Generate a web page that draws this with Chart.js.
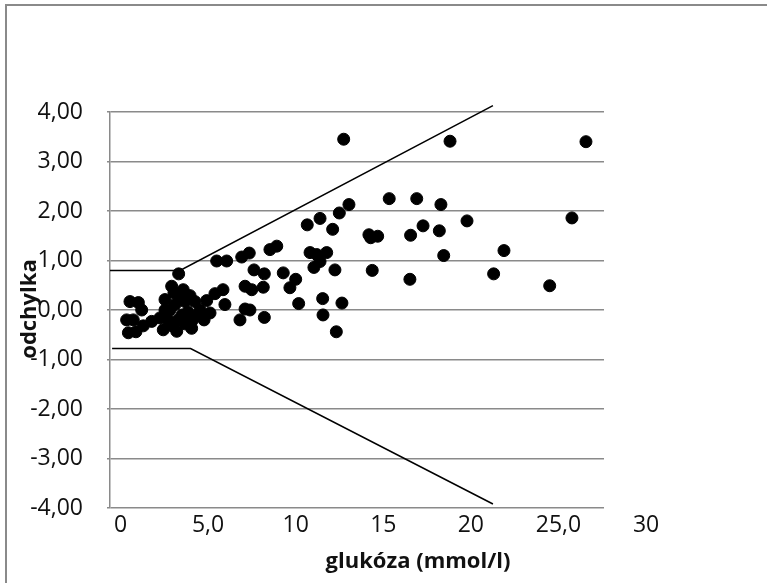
<!DOCTYPE html>
<html>
<head>
<meta charset="utf-8">
<script src="https://cdn.jsdelivr.net/npm/chart.js@4.4.1/dist/chart.umd.min.js"></script>
<style>
  body { margin: 0; background: #fff; }
  #wrap { width: 767px; height: 583px; position: relative; }
</style>
</head>
<body>
<div id="wrap"><canvas id="scatterChart"></canvas></div>
<script>
// glukóza (mmol/l) values of the measured points
var glukoza = [
  12.74, 18.81, 13.04, 12.49, 15.34, 16.91, 18.29, 19.78, 10.66, 11.39,
  12.11, 14.18, 14.28, 14.68, 16.56, 17.27, 18.20, 8.53, 8.92, 10.82,
  11.20, 11.77, 11.39, 11.04, 12.24, 21.89, 18.45, 14.37, 21.30, 16.52,
  7.62, 8.21, 9.29, 10.00, 9.67, 8.15, 7.49, 10.17, 11.54, 12.64,
  7.39, 8.21, 11.56, 12.32, 26.57, 25.77, 24.50, 3.32, 5.49, 6.06,
  6.92, 7.35, 7.11, 7.11, 6.82, 5.96, 5.39, 5.85, 4.92, 4.54,
  0.54, 1.02, 1.21, 0.35, 0.73, 0.45, 0.88, 1.30, 1.78, 2.92,
  3.05, 3.58, 2.44, 3.21, 4.06, 2.54, 2.83, 3.11, 3.40, 3.68,
  3.97, 4.25, 3.51, 2.71, 3.28, 3.85, 4.31, 2.94, 3.68, 2.25,
  2.54, 4.77, 4.08, 5.11
];
// odchylka of the same points
var odchylka = [
  3.45, 3.41, 2.13, 1.96, 2.25, 2.25, 2.13, 1.80, 1.72, 1.85,
  1.63, 1.52, 1.46, 1.49, 1.51, 1.70, 1.60, 1.22, 1.29, 1.16,
  1.12, 1.16, 0.98, 0.86, 0.81, 1.20, 1.10, 0.80, 0.73, 0.62,
  0.81, 0.73, 0.75, 0.62, 0.45, 0.46, 0.41, 0.13, 0.23, 0.14,
  0.00, -0.15, -0.10, -0.44, 3.40, 1.86, 0.49, 0.73, 0.99, 0.99,
  1.07, 1.15, 0.48, 0.02, -0.20, 0.11, 0.33, 0.41, 0.19, 0.00,
  0.17, 0.15, 0.00, -0.20, -0.20, -0.46, -0.44, -0.32, -0.23, 0.48,
  0.35, 0.41, -0.40, -0.43, -0.37, 0.21, 0.00, 0.11, 0.25, 0.17,
  0.29, 0.17, -0.10, -0.20, -0.20, -0.04, -0.12, -0.32, -0.28, -0.16,
  0.00, -0.20, -0.22, -0.06
];

// limit lines
var upperX = [-0.6, 3.4, 21.26];
var upperY = [0.80, 0.80, 4.13];
var lowerX = [-0.48, 4.0, 21.26];
var lowerY = [-0.78, -0.78, -3.92];

// x tick labels (written as in the original)
var xTickValues = [0, 5, 10, 15, 20, 25, 30];
var xTickLabels = ['0', '5,0', '10', '15', '20', '25,0', '30'];

function toPoints(xs, ys) {
  return xs.map(function (x, i) { return { x: x, y: ys[i] }; });
}

// frame, x labels and axis titles
var extrasPlugin = {
  id: 'extras',
  beforeDraw: function (chart) {
    var c = chart.ctx;
    c.save();
    c.strokeStyle = '#8a8a8a';
    c.lineWidth = 2;
    c.strokeRect(6, 5, 800, 620);
    c.restore();
  },
  afterDraw: function (chart) {
    var c = chart.ctx;
    var xs = chart.scales.x;
    c.save();
    c.fillStyle = '#111';
    c.font = '23px "Open Sans"';
    c.textAlign = 'center';
    c.textBaseline = 'middle';
    xTickValues.forEach(function (v, i) {
      c.fillText(xTickLabels[i], xs.getPixelForValue(v), 525);
    });
    c.font = 'bold 22px "Open Sans"';
    c.fillText('glukóza (mmol/l)', 418, 562);
    c.translate(30, 309);
    c.rotate(-Math.PI / 2);
    c.fillText('odchylka', 0, 0);
    c.restore();
  }
};

const ctx = document.getElementById('scatterChart');
new Chart(ctx, {
  type: 'scatter',
  data: {
    datasets: [
      {
        label: 'body',
        data: toPoints(glukoza, odchylka),
        backgroundColor: '#000',
        borderColor: '#000',
        pointRadius: 6,
        pointHoverRadius: 6,
        order: 1
      },
      {
        label: 'horní mez',
        data: toPoints(upperX, upperY),
        showLine: true,
        borderColor: '#000',
        borderWidth: 1.5,
        pointRadius: 0,
        clip: false,
        order: 2
      },
      {
        label: 'dolní mez',
        data: toPoints(lowerX, lowerY),
        showLine: true,
        borderColor: '#000',
        borderWidth: 1.5,
        pointRadius: 0,
        clip: false,
        order: 2
      }
    ]
  },
  options: {
    responsive: true,
    maintainAspectRatio: false,
    animation: false,
    layout: {
      padding: { left: 0, top: 112, right: 163, bottom: 75 }
    },
    plugins: {
      legend: { display: false },
      tooltip: { enabled: false }
    },
    scales: {
      x: {
        type: 'linear',
        display: false,
        min: -0.6,
        max: 27.6
      },
      y: {
        min: -4,
        max: 4,
        afterFit: function (scale) { scale.width = 110; },
        border: { display: true, color: '#8a8a8a', width: 1.5 },
        grid: {
          color: '#8a8a8a',
          lineWidth: 1.5,
          drawTicks: true,
          tickLength: 3
        },
        ticks: {
          stepSize: 1,
          padding: 24,
          color: '#111',
          font: { family: '"Open Sans"', size: 23 },
          callback: function (v) { return v.toFixed(2).replace('.', ','); }
        }
      }
    }
  },
  plugins: [extrasPlugin]
});
</script>
</body>
</html>
